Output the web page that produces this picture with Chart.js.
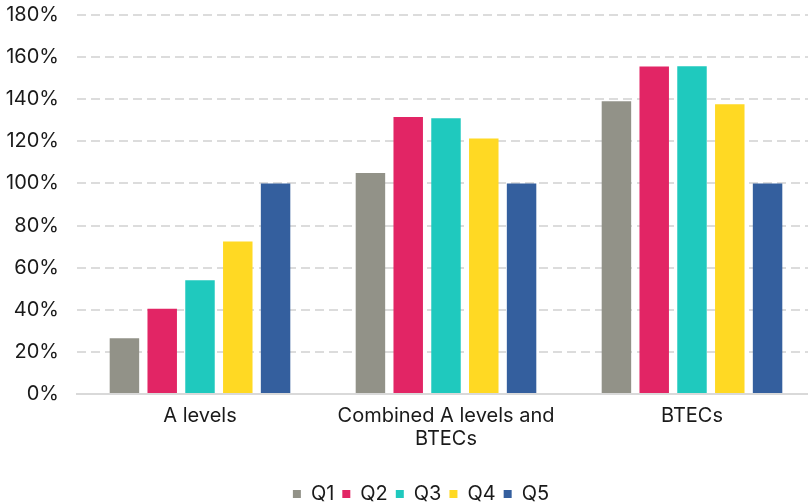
<!DOCTYPE html>
<html>
<head>
<meta charset="utf-8">
<script src="https://cdn.jsdelivr.net/npm/chart.js@4/dist/chart.umd.min.js"></script>
<style>
  html, body { margin: 0; padding: 0; background: #ffffff; overflow: hidden; }
  #wrap { width: 808px; height: 504px; position: relative; overflow: hidden; }
  /* the plot runs slightly past the right edge of the frame */
  #inner { width: 815px; height: 504px; position: relative; }
</style>
</head>
<body>
<div id="wrap"><div id="inner"><canvas id="chart"></canvas></div></div>
<script>
// Qualification groups on the x axis (multi-line label as an array)
const categories = ["A levels", ["Combined A levels and", "BTECs"], "BTECs"];

// Ratios by quintile, in percent
const q1 = [26.5, 105, 139];
const q2 = [40.5, 131.5, 155.5];
const q3 = [54, 131, 155.7];
const q4 = [72.4, 121.4, 137.6];
const q5 = [100, 100, 100];

const seriesNames = ["Q1", "Q2", "Q3", "Q4", "Q5"];
const seriesColors = ["#929288", "#e22565", "#1fc9be", "#ffd923", "#345f9e"];

// Y-axis tick values
const yTicks = [0, 20, 40, 60, 80, 100, 120, 140, 160, 180];

const seriesValues = [q1, q2, q3, q4, q5];

Chart.defaults.font.family = "Inter, 'Liberation Sans', sans-serif";
Chart.defaults.font.size = 20;
Chart.defaults.color = "#1a1a1a";

// Nudge the legend row so it sits under the middle group
const legendShift = {
  id: "legendShift",
  afterLayout(chart) {
    chart.legend.left += 11;
    chart.legend.right += 11;
  }
};

new Chart(document.getElementById("chart"), {
  type: "bar",
  data: {
    labels: categories,
    datasets: seriesNames.map((name, i) => ({
      label: name,
      data: seriesValues[i],
      backgroundColor: seriesColors[i],
      borderWidth: 0,
      barPercentage: 0.78,
      categoryPercentage: 0.768
    }))
  },
  plugins: [legendShift],
  options: {
    responsive: true,
    maintainAspectRatio: false,
    animation: false,
    layout: { padding: { top: 15, left: 5, right: 0, bottom: -10 } },
    plugins: {
      tooltip: { enabled: false },
      legend: {
        position: "bottom",
        labels: {
          boxWidth: 8,
          boxHeight: 8,
          padding: 8,
          color: "#1a1a1a",
          font: { size: 20 }
        }
      }
    },
    scales: {
      x: {
        grid: { display: false, drawTicks: false },
        border: { display: true, color: "#d9d9d9", width: 2 },
        ticks: {
          padding: 10,
          maxRotation: 0,
          autoSkip: false,
          font: { size: 20, lineHeight: 1.15 }
        },
        afterFit: (axis) => { axis.height += 16; }
      },
      y: {
        min: 0,
        max: 180,
        afterBuildTicks: (axis) => { axis.ticks = yTicks.map(v => ({ value: v })); },
        afterFit: (axis) => {
          axis.width = 72;
          axis.paddingTop = 0;
          axis.paddingBottom = 0;
        },
        grid: {
          drawTicks: false,
          lineWidth: 2,
          color: (ctx) => ctx.tick && ctx.tick.value === 0 ? "rgba(0,0,0,0)" : "#dcdcdc"
        },
        border: { display: false, dash: [9, 5] },
        ticks: {
          padding: 18,
          callback: (v) => v + "%",
          font: { size: 20 }
        }
      }
    }
  }
});
</script>
</body>
</html>
